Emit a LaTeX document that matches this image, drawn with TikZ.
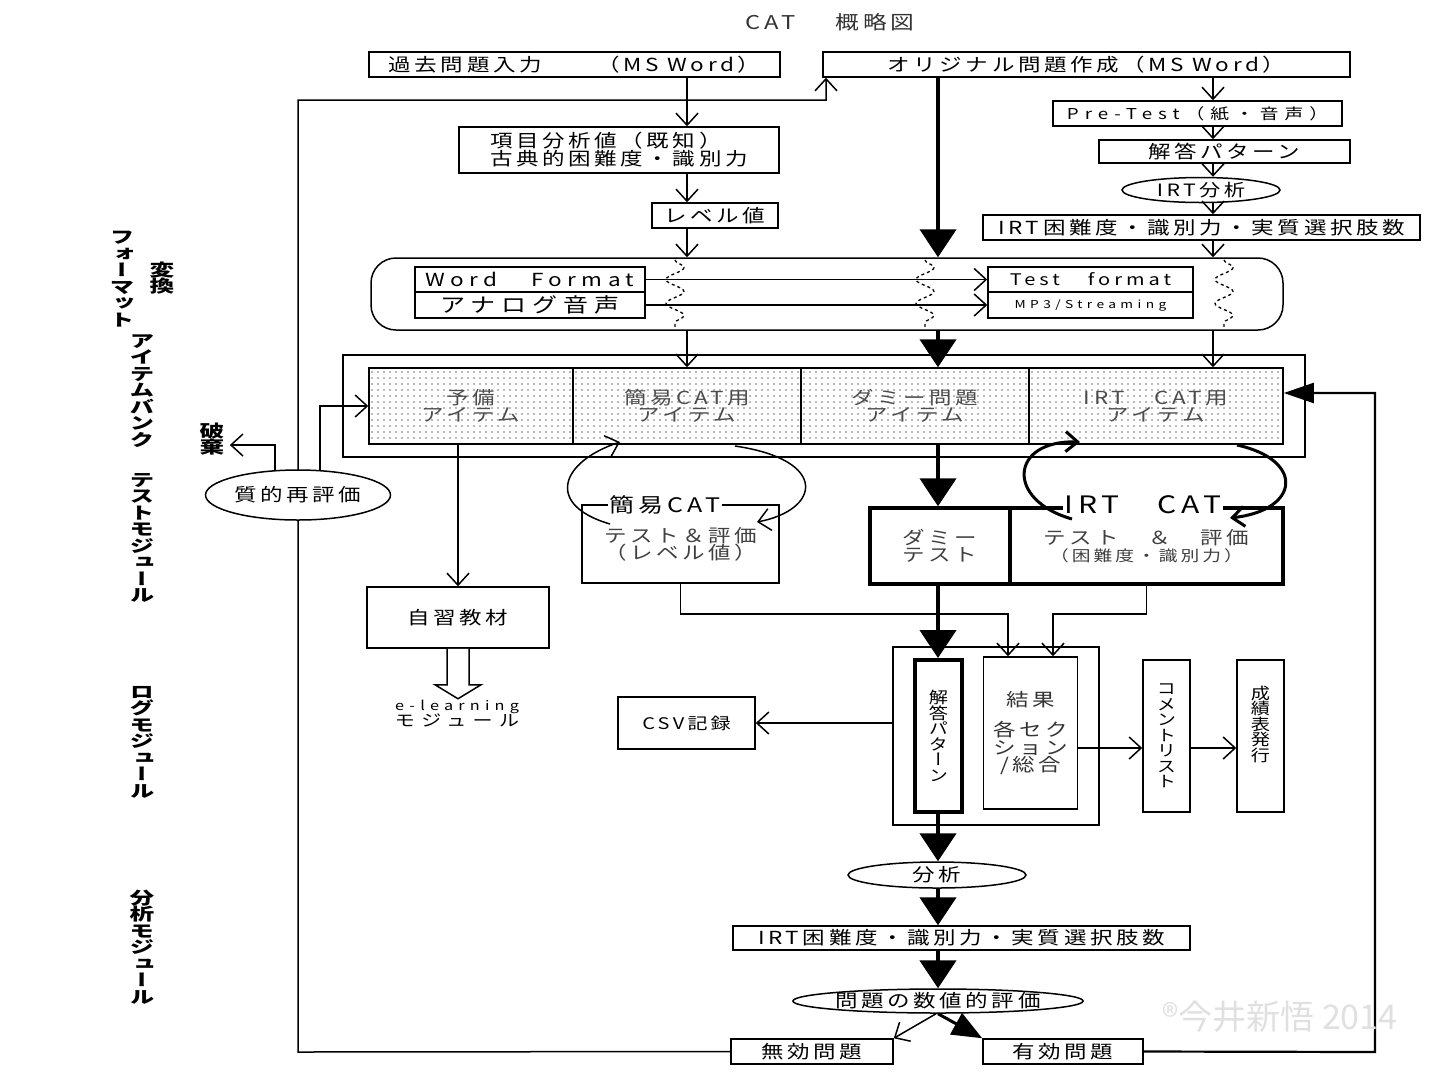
\documentclass[tikz,border=0pt]{standalone}
\usepackage{fontspec}
\setmainfont{Noto Sans CJK JP}[FakeStretch=1.25,LetterSpace=20]
\newfontfamily\vfont{Noto Sans CJK JP}[FakeStretch=1.45,RawFeature=+vert]
\newfontfamily\vtfont{Noto Sans CJK JP}[FakeStretch=1.2,RawFeature=+vert]
\newfontfamily\plainfont{Noto Sans CJK JP}
\newcommand\fsz[2]{\fontsize{#1}{#2}\selectfont}
\usetikzlibrary{arrows.meta,shapes.geometric,decorations.pathmorphing,patterns.meta,calc,backgrounds}
\begin{document}
\begin{tikzpicture}[x=1pt,y=-1pt,
 ln/.style={line width=1.5pt},
 box/.style={draw, line width=1.5pt, fill=white, inner sep=0pt, font=\fsz{18}{20}},
 tbox/.style={draw, line width=3.5pt, fill=white, inner sep=0pt, align=center, font=\fsz{18}{17}, text=black!75},
 cell/.style={draw, line width=1.5pt, inner sep=0pt, align=center, pattern={Dots[distance=6pt,radius=0.8pt]}, pattern color=black!55, text=black!70, font=\fsz{18}{17}},
 ell/.style={ellipse, draw, line width=1.5pt, fill=white, inner sep=0pt, font=\fsz{18}{20}},
 wh/.style 2 args={minimum width=#1, minimum height=#2},
 oarr/.style={-{Straight Barb[length=12pt,width=22pt]}},
 farr/.style={line width=4.5pt, -{Triangle[length=28pt,width=36pt]}},
 carr/.style={line width=3pt, -{Straight Barb[length=12pt,width=20pt]}},
 vlab/.style={font=\vfont\bfseries\fsz{17}{16.5}, align=center},
 vt/.style={font=\vtfont\fsz{16}{15.5}, align=center}]
\useasboundingbox (0,0) rectangle (1440,1080);

% column coordinates
\coordinate (xa) at (687,0);
\coordinate (xb) at (938,0);
\coordinate (xc) at (1213,0);
\coordinate (r1) at (1008,0);
\coordinate (r2) at (1053,0);
\coordinate (yJ) at (0,614);
\coordinate (yA) at (0,748);

% title
\node[font=\fsz{19}{22}, text=black!80] (title) at (830,22) {CAT\hspace{40pt}概略図};

% top boxes
\node[box, wh={411pt}{25pt}] (A) at (574.5,64.5) {過去問題入力　　（MS Word）};
\node[box, wh={527pt}{25pt}] (B) at (1086.5,64.5) {オリジナル問題作成（MS Word）};
\node[box, wh={320pt}{46pt}, align=left, font=\fsz{18}{18}] (C) at (619,150) {項目分析値（既知）\\古典的困難度・識別力};
\node[box, wh={126pt}{25pt}] (D) at (715,215.5) {レベル値};
\node[box, wh={289pt}{25pt}, font={\fsz{15}{18}\addfontfeature{LetterSpace=40}}] (PT) at (1197.5,113.5) {Pre-Test（紙・音声）};
\node[box, wh={251pt}{23pt}] (KP) at (1224.5,151.5) {解答パターン};
\node[ell, wh={158pt}{25pt}, font=\fsz{17}{20}] (IA) at (1201,190) {IRT分析};
\node[box, wh={437pt}{25pt}] (IRTd) at (1201.5,227.5) {IRT困難度・識別力・実質選択肢数};

% format conversion
\node[draw, line width=1.5pt, rounded corners=25pt, wh={912pt}{72pt}] (F) at (827,294) {};
\node[box, wh={230pt}{25pt}, font={\fsz{18}{20}\addfontfeature{LetterSpace=30}}] (WF1) at (530,279.5) {Word　Format};
\node[box, wh={230pt}{26pt}, font={\fsz{20}{20}\addfontfeature{LetterSpace=30}}] (WF2) at (530,305) {アナログ音声};
\node[box, wh={205pt}{25pt}, font={\fsz{16}{20}\addfontfeature{LetterSpace=25}}] (TF1) at (1090.5,279.5) {Test　format};
\node[box, wh={205pt}{26pt}, font={\fsz{11}{14}\addfontfeature{LetterSpace=40}}] (TF2) at (1090.5,305) {MP3/Streaming};

% item bank
\node[draw, line width=1.5pt, wh={962pt}{102pt}] (IB) at (824,406) {};
\node[cell, wh={204pt}{76pt}] (c1) at (471,406) {予備\\アイテム};
\node[cell, wh={228pt}{76pt}] (c2) at (687,406) {簡易CAT用\\アイテム};
\node[cell, wh={228pt}{76pt}] (c3) at (915,406) {ダミー問題\\アイテム};
\node[cell, wh={254pt}{76pt}] (c4) at (1156,406) {IRT　CAT用\\アイテム};

% left labels
\node[vlab] (V1) at (122,279) {フ\\ォ\\ー\\マ\\ッ\\ト};
\node[vlab] (V2) at (162,278) {変\\換};
\node[vlab] (V3) at (142,391) {ア\\イ\\テ\\ム\\バ\\ン\\ク};
\node[vlab] (HK) at (212,439) {破\\棄};
\node[vlab] (V4) at (142,538) {テ\\ス\\ト\\モ\\ジ\\ュ\\ー\\ル};
\node[vlab] (V5) at (142,742) {ロ\\グ\\モ\\ジ\\ュ\\ー\\ル};
\node[vlab] (V6) at (142,947) {分\\析\\モ\\ジ\\ュ\\ー\\ル};

% test module
\node[box, wh={197pt}{78pt}, align=center, font=\fsz{18}{17}, text=black!75] (KT) at (680.5,544) {テスト＆評価\\（レベル値）};
\node[fill=white, inner sep=2pt, font=\fsz{20}{20}] (KL) at (665,505) {簡易CAT};
\node[tbox, wh={140pt}{76pt}] (DT) at (940,546) {ダミー\\テスト};
\node[tbox, wh={273pt}{76pt}] (IT) at (1146.5,546) {テスト　＆　評価\\{\fsz{15}{17}（困難度・識別力）}};
\node[fill=white, inner sep=2pt, font=\fsz{24}{24}] (IL) at (1143,505) {IRT\hspace{38pt}CAT};

\node[box, wh={182pt}{61pt}] (JS) at (458,617.5) {自習教材};
\node[align=center, font={\fsz{13}{16}\addfontfeature{LetterSpace=40}}] (EL) at (457,714) {e-learning\\{\fsz{16}{16}\addfontfeature{LetterSpace=40}モジュール}};

% log module
\node[draw, line width=1.5pt, wh={206pt}{178pt}] (LG) at (996,736) {};
\node[draw, line width=4pt, fill=white, inner sep=0pt, wh={47pt}{152pt}, vt] (KP2) at (938.5,736) {解\\答\\パ\\タ\\ー\\ン};
\node[box, wh={94pt}{152pt}, align=center, font=\fsz{18}{17.5}, text=black!80] (RS) at (1030.5,733) {結果\\[13pt]各セク\\ション\\/総合};
\node[box, wh={47pt}{152pt}, vt] (CM) at (1166.5,736) {コ\\メ\\ン\\ト\\リ\\ス\\ト};
\node[box, wh={47pt}{152pt}, label={[vt, yshift=12pt]center:{成\\績\\表\\発\\行}}] (SS) at (1260.5,736) {};
\node[box, wh={137pt}{52pt}, font=\fsz{16}{18}] (CSV) at (686.5,723) {CSV記録};

% analysis module
\node[ell, wh={178pt}{26pt}] (AN) at (937,875) {分析};
\node[box, wh={457pt}{24pt}] (I2) at (961.5,938) {IRT困難度・識別力・実質選択肢数};
\node[ell, wh={274pt}{24pt}] (EV) at (938,1001) {問題の数値的評価};
\node[box, wh={162pt}{25pt}] (MK) at (812,1051.5) {無効問題};
\node[box, wh={160pt}{25pt}] (YK) at (1063,1051.5) {有効問題};

% loops coordinates
\coordinate (LB) at (298,1052);
\coordinate (LT) at (298,100);
\coordinate (LR) at (826,100);
\coordinate (RB) at (1375,1052);
\coordinate (RT) at (1375,393);
\coordinate (Q1) at (320,471);
\coordinate (Q2) at (275,471);

% left feedback loop (behind the ellipse)
\begin{scope}[on background layer]
\draw[ln, oarr] (MK.west) -- (LB) -- (LT) -- (LR) -- (LR |- B.south);
\end{scope}
\node[ell, wh={185pt}{50pt}] (QE) at (298,495) {質的再評価};
\draw[ln, oarr] (Q1) |- (c1.west);
\draw[ln, oarr] (Q2) |- ($(HK.east)+(2,6)$);

% right feedback loop
\draw[line width=2.2pt, -{Triangle[length=30pt,width=20pt]}] (YK.east) -- (RB) -- (RT) -- (RT -| c4.east);

% left column arrows
\draw[ln, oarr] (A.south -| xa) -- (C.north -| xa);
\draw[ln, oarr] (C.south -| xa) -- (D.north -| xa);
\draw[ln, oarr] (D.south -| xa) -- (F.north -| xa);
\draw[ln, oarr] (F.south -| xa) -- (c2.north -| xa);

% centre trunk
\draw[farr] (B.south -| xb) -- (F.north -| xb);
\draw[farr] (F.south -| xb) -- (c3.north -| xb);
\draw[farr] (c3.south -| xb) -- (DT.north -| xb);
\draw[farr] (DT.south -| xb) -- (KP2.north -| xb);
\draw[farr] (KP2.south -| xb) -- (AN.north -| xb);
\draw[farr] (AN.south -| xb) -- (I2.north -| xb);
\draw[farr] (I2.south -| xb) -- (EV.north -| xb);
\draw[ln, oarr] ($(EV.south)+(-2,0)$) -- (MK.north east);
\draw[line width=3pt, -{Triangle[length=30pt,width=24pt]}] (EV.south) -- (YK.north west);

% right column arrows
\draw[ln, oarr] (B.south -| xc) -- (PT.north -| xc);
\draw[ln, oarr] (PT.south -| xc) -- (KP.north -| xc);
\draw[ln, oarr] (KP.south -| xc) -- (IA.north -| xc);
\draw[ln, oarr] (IA.south -| xc) -- (IRTd.north -| xc);
\draw[ln, oarr] (IRTd.south -| xc) -- (F.north -| xc);
\draw[ln, oarr] (F.south -| xc) -- (c4.north -| xc);

% format conversion arrows
\draw[ln, oarr] (WF1.east) -- (TF1.west);
\draw[ln, oarr] (WF2.east) -- (TF2.west);
\foreach \xx in {675,925,1224}{
  \draw[line width=1.3pt, dashed, decorate, decoration={snake, amplitude=9pt, segment length=24pt}]
    (\xx,260) -- (\xx,328);
}

% simple CAT loop
\coordinate (kL1) at (610,524);
\coordinate (kL2) at (620,442);
\coordinate (kR1) at (735,446);
\coordinate (kR2) at (757,522);
\draw[ln, oarr] (kL1) .. controls (545,505) and (560,462) .. (kL2);
\draw[ln, oarr] (kR1) .. controls (830,460) and (820,510) .. (kR2);

% IRT CAT loop
\coordinate (iL1) at (1072,519);
\coordinate (iL2) at (1080,442);
\coordinate (iR1) at (1237,445);
\coordinate (iR2) at (1230,518);
\draw[carr] (iL1) .. controls (1005,500) and (1010,440) .. (iL2);
\draw[carr] (iR1) .. controls (1305,460) and (1300,510) .. (iR2);

% test results
\draw[ln, oarr] (KT.south) |- (yJ -| r1) -- (RS.north -| r1);
\draw[ln, oarr] (IT.south) |- (yJ -| r2) -- (RS.north -| r2);
\draw[ln, oarr] (JS.north |- c1.south) -- (JS.north);
\draw[ln, fill=white] ($(JS.south)+(-11,0)$) -- ($(JS.south)+(-11,36)$) -- ($(JS.south)+(-23,36)$) -- ($(JS.south)+(0,50)$) -- ($(JS.south)+(23,36)$) -- ($(JS.south)+(11,36)$) -- ($(JS.south)+(11,0)$);
\draw[ln, oarr] (LG.west |- CSV.east) -- (CSV.east);
\draw[ln, oarr] (RS.east |- yA) -- (CM.west |- yA);
\draw[ln, oarr] (CM.east |- yA) -- (SS.west |- yA);

% watermark
\node[font=\plainfont\fsz{34}{34}, text=black!12] (WM) at (1280,1017) {®今井新悟 2014};
\end{tikzpicture}
\end{document}
